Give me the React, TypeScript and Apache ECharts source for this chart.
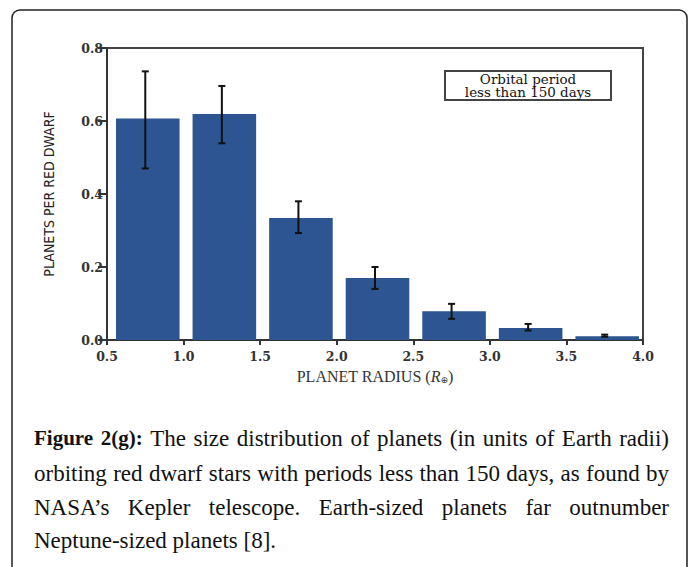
import React, { useEffect, useRef } from "react";
import * as echarts from "echarts";

// Bins of planet radius (Earth radii)
const binLow = [0.5, 1.0, 1.5, 2.0, 2.5, 3.0, 3.5];
const binHigh = [1.0, 1.5, 2.0, 2.5, 3.0, 3.5, 4.0];
// Planets per red dwarf
const values = [0.607, 0.619, 0.334, 0.17, 0.079, 0.033, 0.01];
const errLow = [0.47, 0.539, 0.293, 0.14, 0.058, 0.026, 0.009];
const errHigh = [0.736, 0.696, 0.38, 0.2, 0.099, 0.044, 0.0147];

const xTicks = [0.5, 1.0, 1.5, 2.0, 2.5, 3.0, 3.5, 4.0];
const yTicks = [0.0, 0.2, 0.4, 0.6, 0.8];

const legendText = "Orbital period\nless than 150 days";

const captionLines: { text: string; bold?: boolean }[][] = [
  [
    { text: "Figure 2(g):", bold: true },
    { text: "The size distribution of planets (in units of Earth radii)" },
  ],
  [{ text: "orbiting red dwarf stars with periods less than 150 days, as found by" }],
  [{ text: "NASA’s Kepler telescope. Earth-sized planets far outnumber" }],
  [{ text: "Neptune-sized planets [8]." }],
];

const BAR_COLOR = "#2c5592";
const CAP_FONT = '"Liberation Serif", "DejaVu Serif", serif';
const CAP_SIZE = 23;
const CAP_BOLD_SIZE = 21;

function fontOf(bold: boolean) {
  return bold ? `bold ${CAP_BOLD_SIZE}px ${CAP_FONT}` : `${CAP_SIZE}px ${CAP_FONT}`;
}

function buildCaption(): any[] {
  const canvas = document.createElement("canvas");
  const ctx = canvas.getContext("2d") as CanvasRenderingContext2D;
  const left = 34;
  const right = 669;
  const lineY = [438, 473, 507, 540];
  const els: any[] = [];
  captionLines.forEach((segs, li) => {
    const words: { w: string; bold: boolean; width: number }[] = [];
    segs.forEach((s) => {
      s.text.split(" ").forEach((w) => {
        if (!w) return;
        ctx.font = fontOf(!!s.bold);
        words.push({ w, bold: !!s.bold, width: ctx.measureText(w).width });
      });
    });
    const last = li === captionLines.length - 1;
    ctx.font = fontOf(false);
    const space = ctx.measureText(" ").width;
    const total = words.reduce((a, b) => a + b.width, 0);
    let gap = last || words.length < 2 ? space : (right - left - total) / (words.length - 1);
    if (gap < space * 0.6) gap = space * 0.6;
    let x = left;
    words.forEach((wd) => {
      els.push({
        type: "text",
        x,
        y: lineY[li],
        style: {
          text: wd.w,
          font: fontOf(wd.bold),
          fill: "#111",
          textVerticalAlign: "middle",
          textAlign: "left",
        },
      });
      x += wd.width + gap;
    });
  });
  return els;
}

export default function App() {
  const ref = useRef<HTMLDivElement>(null);
  useEffect(() => {
    if (!ref.current) return;
    const chart = echarts.init(ref.current, null, { renderer: "svg" });
    const barData = values.map((v, i) => [binLow[i], binHigh[i], v]);
    const errData = values.map((_, i) => [(binLow[i] + binHigh[i]) / 2, errLow[i], errHigh[i]]);
    const tickFont = {
      fontFamily: '"DejaVu Serif", serif',
      fontWeight: "bold" as const,
      fontSize: 12.5,
      color: "#333",
    };
    chart.setOption({
      animation: false,
      backgroundColor: "#ffffff",
      grid: {
        left: 107,
        right: 48,
        top: 48,
        bottom: 227,
        show: true,
        borderColor: "#444",
        borderWidth: 2,
        backgroundColor: "transparent",
      },
      xAxis: {
        type: "value",
        min: xTicks[0],
        max: xTicks[xTicks.length - 1],
        interval: 0.5,
        splitLine: { show: false },
        axisLine: { lineStyle: { color: "#333", width: 2 } },
        axisTick: { show: true, length: 5, lineStyle: { color: "#333", width: 2 } },
        axisLabel: { ...tickFont, margin: 10, formatter: (v: number) => v.toFixed(1) },
        name: "PLANET RADIUS ({i|R}{s|⊕})",
        nameLocation: "middle",
        nameGap: 28,
        nameTextStyle: {
          fontFamily: '"Liberation Serif", serif',
          fontSize: 16,
          color: "#333",
          rich: {
            i: { fontFamily: '"Liberation Serif", serif', fontStyle: "italic", fontSize: 16, color: "#333" },
            s: { fontFamily: '"DejaVu Sans", sans-serif', fontSize: 9, color: "#333", verticalAlign: "bottom", padding: [7, 0, 0, 0] },
          },
        },
      },
      yAxis: {
        type: "value",
        min: yTicks[0],
        max: yTicks[yTicks.length - 1],
        interval: 0.2,
        splitLine: { show: false },
        axisLine: { lineStyle: { color: "#333", width: 2 } },
        axisTick: { show: true, length: 9, lineStyle: { color: "#333", width: 2 } },
        axisLabel: { ...tickFont, margin: 4, formatter: (v: number) => v.toFixed(1) },
        name: "PLANETS PER RED DWARF",
        nameLocation: "middle",
        nameGap: 51,
        nameRotate: 90,
        nameTextStyle: {
          fontFamily: '"Liberation Sans Narrow", "DejaVu Sans Condensed", "Liberation Sans", sans-serif',
          fontSize: 14,
          color: "#222",
        },
      },
      series: [
        {
          type: "custom",
          data: barData,
          encode: { x: [0, 1], y: 2 },
          renderItem: (params: any, api: any) => {
            const p0 = api.coord([api.value(0), api.value(2)]);
            const p1 = api.coord([api.value(1), 0]);
            return {
              type: "rect",
              shape: { x: p0[0] + 9, y: p0[1], width: p1[0] - p0[0] - 13, height: p1[1] - p0[1] },
              style: { fill: BAR_COLOR },
            };
          },
          z: 2,
        },
        {
          type: "custom",
          data: errData,
          encode: { x: 0, y: [1, 2] },
          renderItem: (params: any, api: any) => {
            const lo = api.coord([api.value(0), api.value(1)]);
            const hi = api.coord([api.value(0), api.value(2)]);
            const st = { stroke: "#111", lineWidth: 2 };
            return {
              type: "group",
              children: [
                { type: "line", shape: { x1: lo[0], y1: lo[1], x2: hi[0], y2: hi[1] }, style: st },
                { type: "line", shape: { x1: lo[0] - 3.5, y1: lo[1], x2: lo[0] + 3.5, y2: lo[1] }, style: st },
                { type: "line", shape: { x1: hi[0] - 3.5, y1: hi[1], x2: hi[0] + 3.5, y2: hi[1] }, style: st },
              ],
            };
          },
          z: 3,
        },
      ],
      graphic: [
        {
          type: "rect",
          shape: { x: 12, y: 10, width: 675, height: 620, r: 8 },
          style: { fill: "none", stroke: "#222", lineWidth: 1.5 },
          z: 0,
        },
        {
          type: "rect",
          shape: { x: 445, y: 71, width: 166, height: 29 },
          style: { fill: "#fff", stroke: "#444", lineWidth: 2 },
          z: 10,
        },
        {
          type: "text",
          x: 528,
          y: 86,
          scaleX: 1.12,
          style: {
            text: legendText,
            font: '12px "DejaVu Serif", serif',
            lineHeight: 13,
            fill: "#111",
            textAlign: "center",
            textVerticalAlign: "middle",
          },
          z: 11,
        },
        ...buildCaption(),
      ],
    });
    return () => chart.dispose();
  }, []);
  return (
    <div
      ref={ref}
      style={{ position: "absolute", left: 0, top: 0, width: 691, height: 567 }}
    />
  );
}
